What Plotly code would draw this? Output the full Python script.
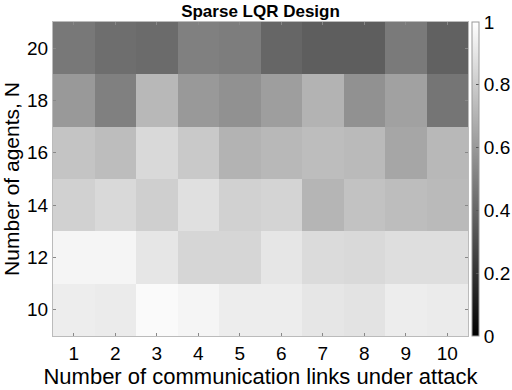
import plotly.graph_objects as go

links = [1, 2, 3, 4, 5, 6, 7, 8, 9, 10]
agents = [10, 12, 14, 16, 18, 20]

# normalized cost per (agents, links), rows bottom to top
row_10 = [0.93, 0.92, 0.98, 0.96, 0.93, 0.93, 0.90, 0.89, 0.93, 0.92]
row_12 = [0.96, 0.96, 0.90, 0.84, 0.84, 0.90, 0.86, 0.85, 0.87, 0.87]
row_14 = [0.82, 0.85, 0.81, 0.88, 0.82, 0.83, 0.71, 0.76, 0.74, 0.73]
row_16 = [0.77, 0.74, 0.85, 0.79, 0.70, 0.72, 0.74, 0.73, 0.65, 0.72]
row_18 = [0.60, 0.50, 0.72, 0.60, 0.57, 0.62, 0.70, 0.57, 0.63, 0.46]
row_20 = [0.47, 0.43, 0.42, 0.50, 0.49, 0.40, 0.37, 0.37, 0.48, 0.38]

z = [row_10, row_12, row_14, row_16, row_18, row_20]

font = "Liberation Sans, Arial, Helvetica, sans-serif"

fig = go.Figure(go.Heatmap(
    x=links,
    y=agents,
    z=z,
    zmin=0,
    zmax=1,
    colorscale=[[0, "black"], [1, "white"]],
    colorbar=dict(
        x=1.01, xanchor="left", xref="paper",
        y=0.5, yanchor="middle", len=1.0, lenmode="fraction",
        thickness=7, xpad=0, ypad=0,
        outlinewidth=1, outlinecolor="#999999",
        tickvals=[0, 0.2, 0.4, 0.6, 0.8, 1],
        ticktext=["0", "0.2", "0.4", "0.6", "0.8", "1"],
        ticks="inside", ticklen=3, tickcolor="#555555",
        tickfont=dict(size=19, color="black", family=font),
    ),
    showscale=True,
))

fig.update_layout(
    width=512, height=390,
    margin=dict(l=53, r=44, t=22, b=54, autoexpand=False),
    paper_bgcolor="white",
    plot_bgcolor="white",
    title=dict(text="<b>Sparse LQR Design</b>", x=0.5, xanchor="center",
               xref="paper", y=0.972, yanchor="middle",
               font=dict(size=17, color="black", family=font)),
    font=dict(family=font, color="black"),
)
fig.update_xaxes(
    range=[0.5, 10.5], tickvals=links, ticks="inside", ticklen=3,
    tickcolor="#888888", mirror="ticks", showline=True, linecolor="#bbbbbb",
    showgrid=False, zeroline=False, automargin=False,
    tickfont=dict(size=19), title=dict(text="Number of communication links under attack",
                                       font=dict(size=22), standoff=4),
)
fig.update_yaxes(
    range=[9, 21], tickvals=agents, ticks="inside", ticklen=3,
    tickcolor="#888888", mirror="ticks", showline=True, linecolor="#bbbbbb",
    showgrid=False, zeroline=False, automargin=False,
    tickfont=dict(size=19), title=dict(text="Number of agents, N",
                                       font=dict(size=21), standoff=2),
)

# drop the browser's default body margin so the 512px figure fits the window
fig.write_html("out.html", config={"displayModeBar": False},
               post_script="document.body.style.margin='0';")
